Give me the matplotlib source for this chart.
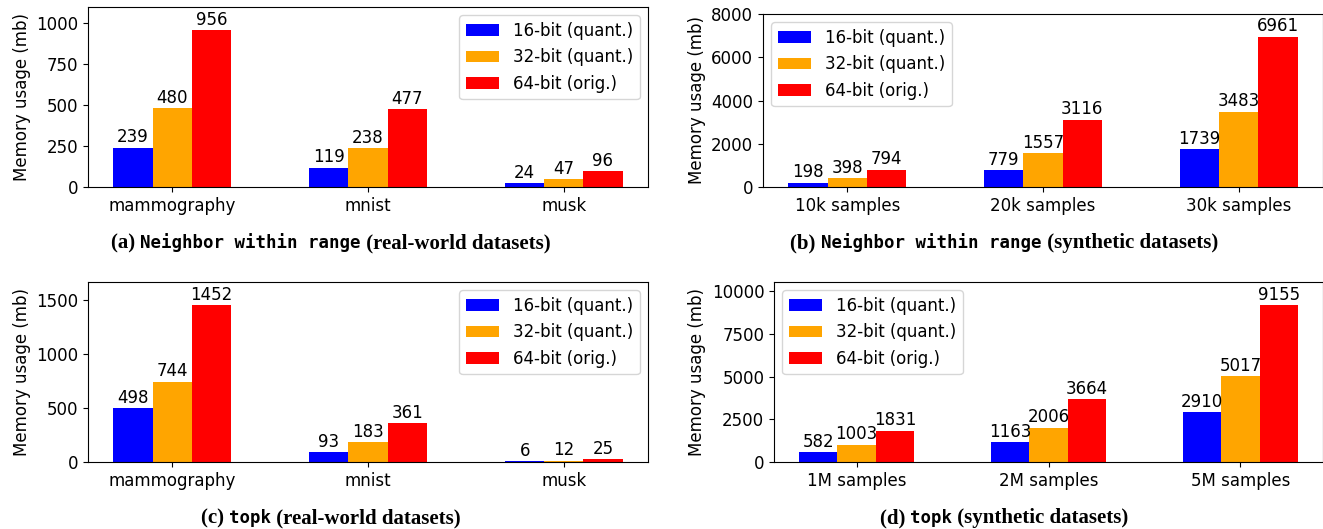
import numpy as np
import matplotlib
matplotlib.use('Agg')
import matplotlib.pyplot as plt

series_labels = ['16-bit (quant.)', '32-bit (quant.)', '64-bit (orig.)']
colors = ['blue', 'orange', 'red']

real_datasets = ['mammography', 'mnist', 'musk']
range_real = [[239, 119, 24], [480, 238, 47], [956, 477, 96]]
topk_real = [[498, 93, 6], [744, 183, 12], [1452, 361, 25]]

range_synth_labels = ['10k samples', '20k samples', '30k samples']
range_synth = [[198, 779, 1739], [398, 1557, 3483], [794, 3116, 6961]]

topk_synth_labels = ['1M samples', '2M samples', '5M samples']
topk_synth = [[582, 1163, 2910], [1003, 2006, 5017], [1831, 3664, 9155]]

W, H = 1323, 529
fig = plt.figure(figsize=(W / 100, H / 100), dpi=100)
fs = 12


def px_axes(left, top, right, bottom):
    return fig.add_axes([left / W, 1 - bottom / H, (right - left) / W, (bottom - top) / H])


def draw(ax, cats, data, legend_loc):
    x = np.arange(len(cats))
    w = 0.2
    for i, vals in enumerate(data):
        bars = ax.bar(x + (i - 1) * w, vals, w, color=colors[i], label=series_labels[i])
        ax.bar_label(bars, padding=1, fontsize=fs)
    ax.set_xticks(x)
    ax.set_xticklabels(cats, fontsize=fs)
    ax.tick_params(axis='y', labelsize=fs)
    ax.set_ylim(0, max(max(v) for v in data) * 1.15)
    ax.set_ylabel('Memory usage (mb)', fontsize=fs)
    ax.legend(loc=legend_loc, fontsize=fs)


ax_a = px_axes(88, 7, 648, 187)
draw(ax_a, real_datasets, range_real, 'upper right')
ax_b = px_axes(763, 14, 1323, 187)
draw(ax_b, range_synth_labels, range_synth, 'upper left')
ax_c = px_axes(88, 282, 648, 462)
draw(ax_c, real_datasets, topk_real, 'upper right')
ax_d = px_axes(774, 282, 1323, 462)
draw(ax_d, topk_synth_labels, topk_synth, 'upper left')

# captions: serif bold text with a monospace function name in the middle
serif = dict(family='Liberation Serif', weight='bold', size=15)
mono = dict(family='DejaVu Sans Mono', weight='bold', size=12.5)
captions = [
    (0.25, 243, [('(a) ', serif), ('Neighbor within range', mono), (' (real-world datasets)', serif)]),
    (0.759, 243, [('(b) ', serif), ('Neighbor within range', mono), (' (synthetic datasets)', serif)]),
    (0.25, 518, [('(c) ', serif), ('topk', mono), (' (real-world datasets)', serif)]),
    (0.759, 518, [('(d) ', serif), ('topk', mono), (' (synthetic datasets)', serif)]),
]

renderer = fig.canvas.get_renderer()
for cx, cy, parts in captions:
    texts = [fig.text(0, 1 - cy / H, s, va='center', ha='left', **props) for s, props in parts]
    widths = [t.get_window_extent(renderer).width for t in texts]
    x0 = cx * W - sum(widths) / 2
    for t, wd in zip(texts, widths):
        t.set_x(x0 / W)
        x0 += wd

fig.savefig('out.png', dpi=100)
